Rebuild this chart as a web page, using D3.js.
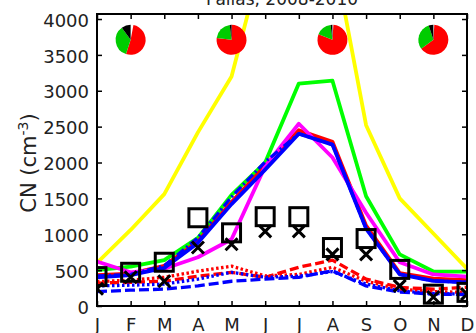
<!DOCTYPE html>
<html><head><meta charset="utf-8">
<script src="https://cdn.jsdelivr.net/npm/d3@7"></script>
<style>body{margin:0;background:#fff}svg{display:block}text{font-family:"DejaVu Sans",sans-serif}</style>
</head><body><svg id="c" width="476" height="333"></svg>
<script>
const months = ["J","F","M","A","M","J","J","A","S","O","N","D"];
const yTicks = [0,500,1000,1500,2000,2500,3000,3500,4000];
const yellow  = [600,1060,1560,2420,3200,5000,5300,5000,2520,1500,1010,520];
const green   = [500,550,640,950,1550,2000,3100,3140,1530,720,480,480];
const magenta = [620,470,520,680,930,1950,2540,2070,1300,610,440,410];
const redSolid  = [430,450,560,900,1450,1950,2450,2290,1120,460,380,360];
const blueSolid = [400,430,530,880,1420,1900,2400,2250,1080,440,350,330];
const blueDashDot = [420,440,560,950,1520,2010,2400,2250,1080,440,350,330];
const redDotted  = [340,360,400,485,555,420,440,540,345,235,200,190];
const redDashed  = [320,330,345,415,470,400,540,640,375,260,235,260];
const blueDotted = [280,290,305,375,470,400,415,480,305,210,175,165];
const blueDashed = [200,220,235,280,345,375,400,490,280,195,165,160];
const squares = [410,470,610,1230,1020,1245,1245,815,940,510,165,190];
const crosses = [240,400,345,815,860,1040,1040,720,720,280,125,165];
const pieMonths = [1,4,7,10];
const pieValue = 3710;
const pieWhite = [3,0,1,1];
const pieRed   = [52,77,80,64];
const pieGreen = [35,21,17,30];
const pieBlack = [10,2,2,5];

const svg = d3.select("#c");
const L=97,R=467,T=14,B=306;
const x = d3.scaleLinear().domain([0,11]).range([L,R]);
const y = d3.scaleLinear().domain([0,4070]).range([B,T]);

svg.append("clipPath").attr("id","cp").append("rect").attr("x",L).attr("y",T).attr("width",R-L).attr("height",B-T);
const g = svg.append("g").attr("clip-path","url(#cp)");

const line = d3.line().x((d,i)=>x(i)).y(d=>y(d));
function draw(data,color,w,dash){
  g.append("path").attr("d",line(data)).attr("fill","none").attr("stroke",color)
   .attr("stroke-width",w).attr("stroke-dasharray",dash||null).attr("stroke-linejoin","round");
}
draw(yellow,"#ffff00",3.8);
draw(green,"#00ff00",3.8);
draw(redSolid,"#ff0000",3.8);
draw(magenta,"#ff00ff",3.8);
draw(blueSolid,"#0000ff",3.8);
draw(blueDashDot,"#0000ff",3.2,"9,3,2,3");
draw(redDotted,"#ff0000",3.3,"2.5,2.5");
draw(redDashed,"#ff0000",3.3,"9,4");
draw(blueDotted,"#0000ff",3.3,"2.5,2.5");
draw(blueDashed,"#0000ff",3.3,"10,4");

// markers
g.selectAll(".sq").data(squares).join("rect")
 .attr("x",(d,i)=>x(i)-9).attr("y",d=>y(d)-9).attr("width",18).attr("height",18)
 .attr("fill","none").attr("stroke","#000").attr("stroke-width",3);
g.selectAll(".cr").data(crosses).join("path")
 .attr("d",(d,i)=>{const cx=x(i),cy=y(d),s=6;return `M${cx-s},${cy-s}L${cx+s},${cy+s}M${cx-s},${cy+s}L${cx+s},${cy-s}`;})
 .attr("fill","none").attr("stroke","#000").attr("stroke-width",3);

// pies
const pie = d3.pie().sort(null).value(d=>d.v);
const arc = d3.arc().innerRadius(0).outerRadius(15);
pieMonths.forEach((m,k)=>{
  const parts=[{v:pieWhite[k],c:"#ffffff"},{v:pieRed[k],c:"#ff0000"},{v:pieGreen[k],c:"#00cc00"},{v:pieBlack[k],c:"#000000"}];
  const pg = svg.append("g").attr("transform",`translate(${x(m)},${y(pieValue)})`);
  pg.selectAll("path").data(pie(parts)).join("path").attr("d",arc).attr("fill",d=>d.data.c);
});

// frame and ticks
svg.append("rect").attr("x",L).attr("y",T).attr("width",R-L).attr("height",B-T)
 .attr("fill","none").attr("stroke","#000").attr("stroke-width",2);
const yl = d3.axisLeft(y).tickValues(yTicks).tickSize(-5).tickPadding(8).tickFormat(d3.format("d"));
const ya = svg.append("g").attr("transform",`translate(${L},0)`).call(yl);
ya.select(".domain").remove();
ya.selectAll("line").attr("stroke-width",1.5);
ya.selectAll("text").attr("font-size",18).attr("font-family","DejaVu Sans").attr("fill","#222").attr("dy","0.4em");
const yr = svg.append("g").attr("transform",`translate(${R},0)`).call(d3.axisRight(y).tickValues(yTicks).tickSize(-5).tickFormat(""));
yr.select(".domain").remove(); yr.selectAll("line").attr("stroke-width",1.5);
const xb = svg.append("g").attr("transform",`translate(0,${B})`)
 .call(d3.axisBottom(x).tickValues(d3.range(12)).tickSize(-5).tickPadding(12).tickFormat(i=>months[i]));
xb.select(".domain").remove(); xb.selectAll("line").attr("stroke-width",1.5);
xb.selectAll("text").attr("font-size",18).attr("font-family","DejaVu Sans").attr("fill","#222");
const xt = svg.append("g").attr("transform",`translate(0,${T})`)
 .call(d3.axisTop(x).tickValues(d3.range(12)).tickSize(-5).tickFormat(""));
xt.select(".domain").remove(); xt.selectAll("line").attr("stroke-width",1.5);

// title and y label
svg.append("text").attr("x",(L+R)/2).attr("y",5).attr("text-anchor","middle")
 .attr("font-size",17).attr("fill","#222").text("Pallas, 2008-2010");
const ylab = svg.append("text").attr("transform",`translate(36,163) rotate(-90)`)
 .attr("text-anchor","middle").attr("font-size",21).attr("fill","#222");
ylab.append("tspan").text("CN (cm");
ylab.append("tspan").attr("font-size",14).attr("dy",-8).text("-3");
ylab.append("tspan").attr("dy",8).text(")");
</script></body></html>
